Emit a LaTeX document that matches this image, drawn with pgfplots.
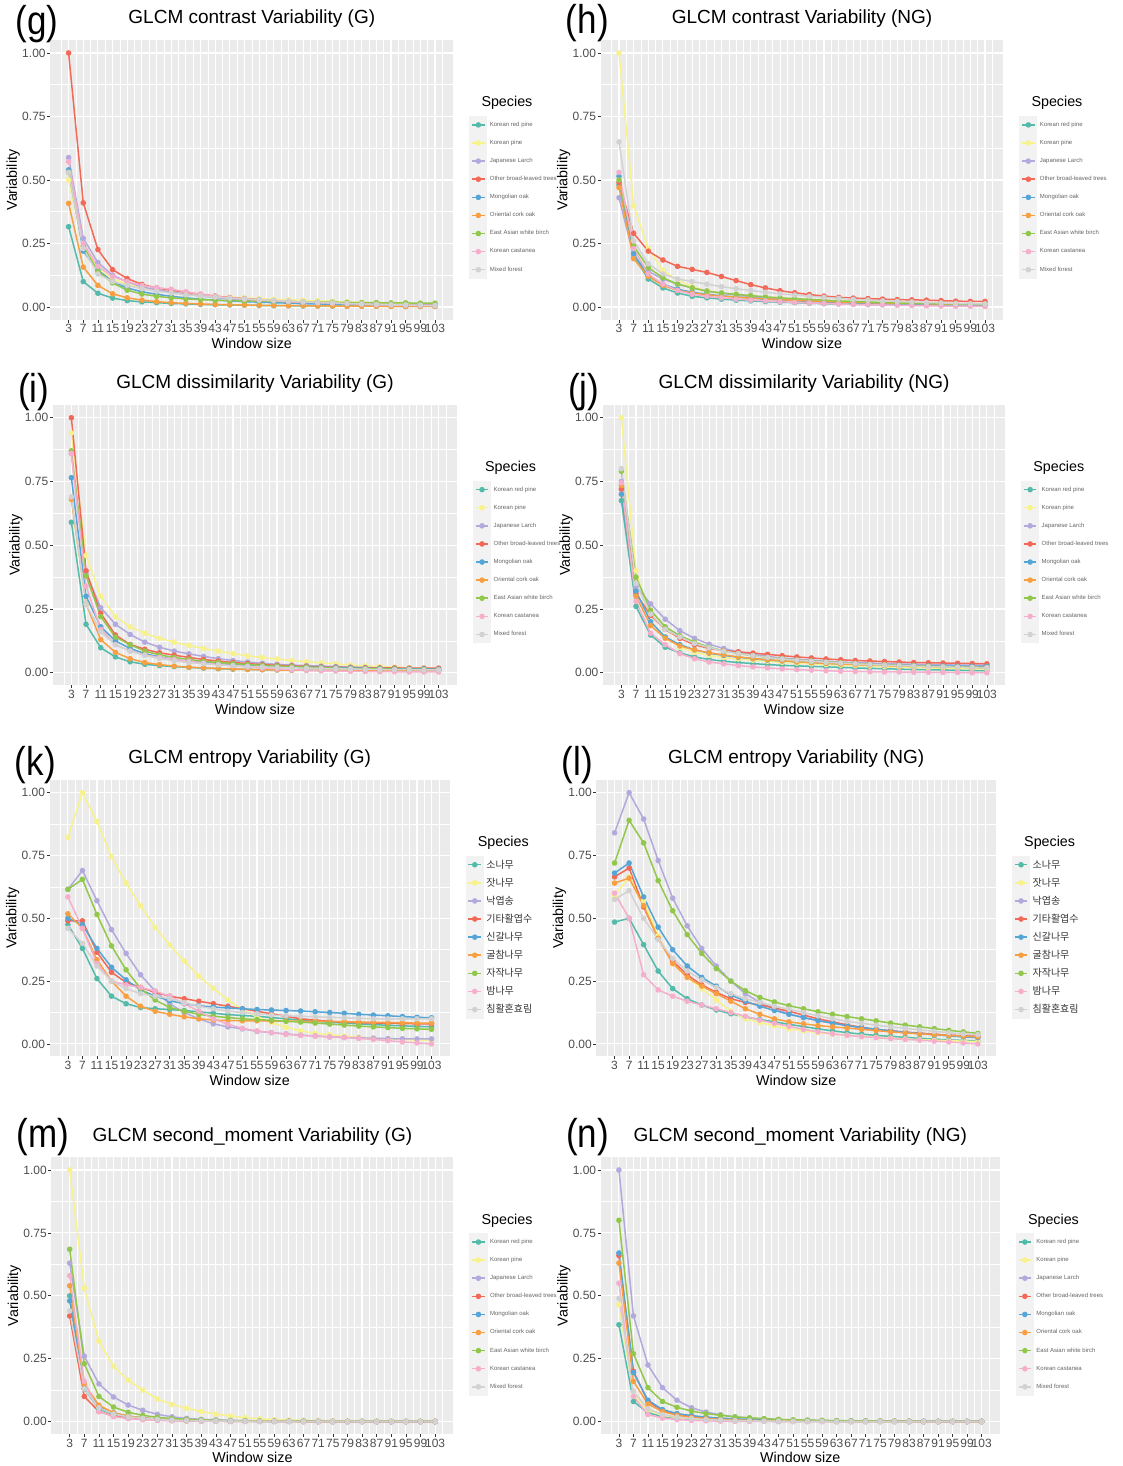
\documentclass[border=0pt]{standalone}
\usepackage{fontspec}
\setmainfont{Liberation Sans}
\newfontfamily\kr{Noto Sans CJK KR}
\usepackage{graphicx}
\usepackage{pgfplots}
\usepackage{pgfplotstable}
\pgfplotsset{compat=1.18}
\definecolor{gg92}{RGB}{235,235,235}
\definecolor{gg95}{RGB}{242,242,242}
\definecolor{gg30}{RGB}{77,77,77}
\definecolor{gg20}{RGB}{51,51,51}
\definecolor{gg40}{RGB}{100,100,100}
\definecolor{c1}{RGB}{84,186,170}
\definecolor{c2}{RGB}{248,242,140}
\definecolor{c3}{RGB}{178,170,220}
\definecolor{c4}{RGB}{242,105,88}
\definecolor{c5}{RGB}{85,165,215}
\definecolor{c6}{RGB}{248,160,65}
\definecolor{c7}{RGB}{145,200,75}
\definecolor{c8}{RGB}{245,175,205}
\definecolor{c9}{RGB}{210,210,210}

\pgfplotstableread{
name c1 c2 c3 c4 c5 c6 c7 c8 c9 c10 c11 c12 c13 c14 c15 c16 c17 c18 c19 c20 c21 c22 c23 c24 c25 c26
x 3 7 11 15 19 23 27 31 35 39 43 47 51 55 59 63 67 71 75 79 83 87 91 95 99 103
a 0.316 0.100 0.054 0.035 0.025 0.020 0.017 0.014 0.012 0.010 0.009 0.008 0.007 0.006 0.005 0.005 0.004 0.004 0.004 0.003 0.003 0.003 0.003 0.002 0.002 0.002
b 0.500 0.240 0.150 0.110 0.090 0.075 0.065 0.058 0.052 0.047 0.043 0.039 0.036 0.033 0.030 0.028 0.026 0.024 0.022 0.020 0.018 0.016 0.014 0.013 0.012 0.011
c 0.588 0.270 0.175 0.125 0.099 0.079 0.068 0.059 0.050 0.043 0.037 0.032 0.028 0.025 0.022 0.020 0.018 0.016 0.014 0.013 0.012 0.011 0.010 0.009 0.008 0.008
d 1.000 0.410 0.226 0.147 0.112 0.089 0.075 0.066 0.058 0.050 0.043 0.037 0.033 0.029 0.025 0.022 0.019 0.017 0.015 0.013 0.011 0.010 0.009 0.008 0.007 0.006
e 0.540 0.220 0.145 0.100 0.075 0.060 0.050 0.042 0.036 0.031 0.027 0.024 0.021 0.019 0.017 0.015 0.013 0.012 0.011 0.010 0.009 0.008 0.007 0.006 0.006 0.005
f 0.408 0.157 0.085 0.052 0.036 0.027 0.021 0.017 0.014 0.012 0.010 0.009 0.008 0.007 0.006 0.005 0.005 0.004 0.004 0.003 0.003 0.003 0.002 0.002 0.002 0.002
g 0.530 0.240 0.140 0.095 0.066 0.051 0.042 0.036 0.032 0.029 0.027 0.025 0.024 0.023 0.022 0.021 0.020 0.019 0.019 0.018 0.017 0.017 0.016 0.016 0.015 0.015
h 0.572 0.250 0.160 0.120 0.100 0.085 0.076 0.070 0.060 0.050 0.042 0.036 0.031 0.027 0.024 0.021 0.019 0.017 0.015 0.013 0.011 0.009 0.008 0.007 0.006 0.005
i 0.530 0.230 0.130 0.100 0.085 0.072 0.062 0.055 0.048 0.043 0.039 0.035 0.032 0.029 0.026 0.023 0.020 0.018 0.016 0.014 0.012 0.010 0.009 0.008 0.007 0.006
}\rawG
\pgfplotstableread{
name c1 c2 c3 c4 c5 c6 c7 c8 c9 c10 c11 c12 c13 c14 c15 c16 c17 c18 c19 c20 c21 c22 c23 c24 c25 c26
x 3 7 11 15 19 23 27 31 35 39 43 47 51 55 59 63 67 71 75 79 83 87 91 95 99 103
a 0.480 0.200 0.110 0.075 0.055 0.042 0.036 0.031 0.027 0.024 0.021 0.019 0.017 0.015 0.013 0.012 0.011 0.010 0.009 0.008 0.007 0.006 0.006 0.005 0.005 0.004
b 1.000 0.400 0.230 0.145 0.105 0.080 0.065 0.055 0.048 0.042 0.037 0.033 0.030 0.027 0.024 0.022 0.020 0.018 0.016 0.015 0.014 0.013 0.012 0.011 0.010 0.010
c 0.430 0.200 0.140 0.110 0.090 0.075 0.063 0.054 0.047 0.041 0.036 0.032 0.028 0.025 0.022 0.020 0.018 0.016 0.014 0.013 0.012 0.011 0.010 0.009 0.008 0.008
d 0.490 0.290 0.220 0.185 0.160 0.148 0.136 0.120 0.104 0.088 0.075 0.064 0.056 0.049 0.043 0.038 0.035 0.033 0.031 0.029 0.028 0.027 0.025 0.023 0.022 0.022
e 0.515 0.210 0.120 0.090 0.070 0.058 0.050 0.044 0.039 0.035 0.031 0.028 0.025 0.022 0.020 0.018 0.016 0.015 0.014 0.013 0.012 0.011 0.010 0.009 0.009 0.008
f 0.470 0.190 0.120 0.085 0.065 0.055 0.048 0.043 0.039 0.035 0.032 0.029 0.026 0.024 0.022 0.020 0.018 0.017 0.016 0.015 0.014 0.013 0.012 0.011 0.011 0.010
g 0.500 0.240 0.155 0.115 0.090 0.075 0.062 0.055 0.050 0.045 0.040 0.036 0.033 0.030 0.027 0.024 0.022 0.020 0.018 0.016 0.015 0.014 0.013 0.012 0.011 0.010
h 0.530 0.230 0.130 0.090 0.065 0.050 0.042 0.036 0.031 0.027 0.024 0.021 0.018 0.016 0.014 0.012 0.010 0.009 0.008 0.007 0.006 0.005 0.004 0.003 0.003 0.002
i 0.650 0.260 0.170 0.130 0.110 0.100 0.090 0.080 0.072 0.065 0.058 0.052 0.047 0.042 0.038 0.034 0.030 0.027 0.024 0.022 0.020 0.018 0.016 0.014 0.013 0.012
}\rawH
\pgfplotstableread{
name c1 c2 c3 c4 c5 c6 c7 c8 c9 c10 c11 c12 c13 c14 c15 c16 c17 c18 c19 c20 c21 c22 c23 c24 c25 c26
x 3 7 11 15 19 23 27 31 35 39 43 47 51 55 59 63 67 71 75 79 83 87 91 95 99 103
a 0.590 0.190 0.098 0.062 0.043 0.033 0.028 0.024 0.021 0.018 0.016 0.014 0.013 0.012 0.011 0.010 0.010 0.009 0.009 0.009 0.008 0.008 0.008 0.008 0.008 0.008
b 0.940 0.460 0.300 0.220 0.180 0.155 0.135 0.120 0.107 0.095 0.085 0.075 0.066 0.060 0.054 0.048 0.043 0.039 0.035 0.030 0.027 0.025 0.022 0.020 0.018 0.017
c 0.860 0.390 0.255 0.190 0.150 0.120 0.100 0.085 0.074 0.064 0.055 0.048 0.042 0.037 0.033 0.030 0.028 0.026 0.024 0.022 0.020 0.019 0.018 0.017 0.016 0.015
d 1.000 0.400 0.233 0.148 0.111 0.092 0.078 0.069 0.060 0.052 0.046 0.040 0.036 0.032 0.029 0.027 0.025 0.023 0.022 0.021 0.020 0.019 0.019 0.018 0.018 0.018
e 0.765 0.300 0.180 0.125 0.095 0.075 0.062 0.052 0.045 0.040 0.035 0.032 0.029 0.027 0.025 0.023 0.022 0.021 0.020 0.019 0.018 0.017 0.016 0.015 0.015 0.014
f 0.680 0.270 0.130 0.080 0.055 0.040 0.032 0.026 0.022 0.019 0.017 0.015 0.013 0.012 0.011 0.010 0.010 0.009 0.009 0.009 0.008 0.008 0.008 0.008 0.008 0.008
g 0.870 0.380 0.220 0.140 0.110 0.085 0.070 0.060 0.052 0.045 0.040 0.036 0.032 0.029 0.026 0.024 0.022 0.020 0.018 0.017 0.016 0.015 0.014 0.013 0.013 0.012
h 0.860 0.340 0.170 0.110 0.085 0.070 0.060 0.052 0.045 0.038 0.032 0.027 0.022 0.018 0.015 0.012 0.010 0.008 0.007 0.006 0.005 0.004 0.004 0.003 0.003 0.003
i 0.690 0.270 0.160 0.110 0.085 0.068 0.056 0.047 0.040 0.035 0.031 0.028 0.025 0.023 0.021 0.019 0.018 0.017 0.016 0.015 0.014 0.013 0.012 0.012 0.011 0.011
}\rawI
\pgfplotstableread{
name c1 c2 c3 c4 c5 c6 c7 c8 c9 c10 c11 c12 c13 c14 c15 c16 c17 c18 c19 c20 c21 c22 c23 c24 c25 c26
x 3 7 11 15 19 23 27 31 35 39 43 47 51 55 59 63 67 71 75 79 83 87 91 95 99 103
a 0.675 0.260 0.148 0.100 0.078 0.062 0.052 0.045 0.040 0.036 0.032 0.029 0.027 0.025 0.023 0.021 0.019 0.017 0.016 0.014 0.013 0.012 0.011 0.010 0.009 0.008
b 1.000 0.400 0.200 0.140 0.100 0.080 0.068 0.060 0.054 0.049 0.045 0.041 0.038 0.035 0.032 0.030 0.028 0.026 0.024 0.022 0.021 0.019 0.018 0.017 0.016 0.015
c 0.750 0.340 0.270 0.210 0.165 0.135 0.112 0.095 0.082 0.072 0.064 0.058 0.053 0.049 0.045 0.042 0.040 0.038 0.036 0.034 0.033 0.032 0.031 0.030 0.030 0.030
d 0.720 0.310 0.225 0.170 0.135 0.110 0.095 0.087 0.082 0.077 0.072 0.067 0.062 0.058 0.054 0.051 0.048 0.046 0.044 0.042 0.040 0.039 0.038 0.037 0.036 0.035
e 0.700 0.320 0.200 0.140 0.110 0.090 0.077 0.068 0.061 0.055 0.050 0.046 0.043 0.040 0.037 0.035 0.033 0.031 0.030 0.029 0.028 0.027 0.026 0.026 0.025 0.025
f 0.735 0.300 0.185 0.135 0.105 0.090 0.078 0.070 0.062 0.056 0.051 0.047 0.043 0.040 0.037 0.034 0.032 0.030 0.028 0.026 0.025 0.024 0.023 0.022 0.021 0.020
g 0.790 0.375 0.245 0.180 0.145 0.120 0.100 0.085 0.075 0.067 0.060 0.055 0.050 0.046 0.042 0.039 0.036 0.033 0.031 0.029 0.027 0.025 0.024 0.022 0.021 0.020
h 0.745 0.280 0.155 0.110 0.075 0.055 0.042 0.035 0.028 0.023 0.019 0.015 0.012 0.010 0.008 0.006 0.005 0.004 0.003 0.003 0.002 0.002 0.001 0.001 0.000 0.000
i 0.800 0.350 0.230 0.170 0.140 0.115 0.098 0.085 0.075 0.067 0.060 0.054 0.049 0.045 0.041 0.038 0.035 0.032 0.030 0.028 0.026 0.024 0.023 0.022 0.021 0.020
}\rawJ
\pgfplotstableread{
name c1 c2 c3 c4 c5 c6 c7 c8 c9 c10 c11 c12 c13 c14 c15 c16 c17 c18 c19 c20 c21 c22 c23 c24 c25 c26
x 3 7 11 15 19 23 27 31 35 39 43 47 51 55 59 63 67 71 75 79 83 87 91 95 99 103
a 0.475 0.380 0.260 0.190 0.160 0.145 0.140 0.137 0.133 0.128 0.122 0.117 0.113 0.110 0.105 0.100 0.095 0.090 0.086 0.083 0.080 0.077 0.074 0.072 0.070 0.068
b 0.822 1.000 0.885 0.745 0.640 0.550 0.464 0.394 0.330 0.270 0.221 0.175 0.138 0.109 0.085 0.066 0.052 0.042 0.037 0.031 0.027 0.023 0.020 0.017 0.016 0.015
c 0.615 0.690 0.570 0.455 0.360 0.275 0.210 0.160 0.125 0.100 0.080 0.068 0.060 0.050 0.045 0.040 0.035 0.032 0.028 0.026 0.024 0.023 0.021 0.020 0.020 0.020
d 0.490 0.490 0.365 0.285 0.245 0.225 0.205 0.190 0.180 0.170 0.160 0.150 0.140 0.130 0.120 0.110 0.100 0.095 0.090 0.087 0.085 0.083 0.082 0.081 0.080 0.080
e 0.500 0.475 0.380 0.305 0.255 0.215 0.190 0.172 0.160 0.152 0.147 0.143 0.140 0.137 0.135 0.133 0.131 0.128 0.125 0.122 0.118 0.115 0.112 0.109 0.106 0.104
f 0.518 0.460 0.335 0.250 0.190 0.150 0.130 0.118 0.108 0.100 0.095 0.093 0.092 0.092 0.091 0.091 0.090 0.090 0.089 0.088 0.087 0.086 0.085 0.084 0.083 0.083
g 0.615 0.655 0.515 0.390 0.295 0.220 0.175 0.145 0.130 0.118 0.110 0.105 0.100 0.097 0.094 0.090 0.087 0.083 0.079 0.075 0.071 0.068 0.065 0.062 0.060 0.058
h 0.585 0.460 0.320 0.250 0.235 0.225 0.210 0.190 0.160 0.130 0.100 0.078 0.062 0.052 0.045 0.038 0.034 0.031 0.028 0.025 0.022 0.018 0.013 0.008 0.004 0.000
i 0.460 0.400 0.310 0.250 0.220 0.200 0.190 0.180 0.165 0.150 0.140 0.130 0.125 0.120 0.115 0.112 0.110 0.108 0.106 0.104 0.102 0.100 0.100 0.100 0.100 0.100
}\rawK
\pgfplotstableread{
name c1 c2 c3 c4 c5 c6 c7 c8 c9 c10 c11 c12 c13 c14 c15 c16 c17 c18 c19 c20 c21 c22 c23 c24 c25 c26
x 3 7 11 15 19 23 27 31 35 39 43 47 51 55 59 63 67 71 75 79 83 87 91 95 99 103
a 0.485 0.500 0.395 0.290 0.220 0.180 0.155 0.135 0.120 0.107 0.097 0.088 0.078 0.069 0.060 0.052 0.045 0.039 0.034 0.030 0.026 0.022 0.019 0.016 0.014 0.012
b 0.590 0.665 0.570 0.430 0.320 0.265 0.220 0.175 0.130 0.100 0.085 0.072 0.060 0.052 0.045 0.040 0.035 0.030 0.026 0.023 0.020 0.017 0.015 0.013 0.011 0.010
c 0.840 1.000 0.895 0.730 0.580 0.470 0.380 0.310 0.250 0.200 0.165 0.140 0.120 0.105 0.092 0.082 0.073 0.065 0.058 0.052 0.047 0.042 0.038 0.035 0.032 0.030
d 0.665 0.700 0.545 0.420 0.330 0.275 0.235 0.205 0.180 0.165 0.155 0.143 0.130 0.115 0.100 0.088 0.076 0.066 0.058 0.052 0.047 0.043 0.039 0.035 0.032 0.030
e 0.680 0.720 0.585 0.465 0.375 0.310 0.265 0.230 0.195 0.170 0.150 0.133 0.118 0.105 0.093 0.083 0.073 0.065 0.058 0.052 0.046 0.041 0.036 0.032 0.028 0.025
f 0.640 0.660 0.550 0.420 0.320 0.265 0.230 0.200 0.170 0.140 0.118 0.100 0.088 0.080 0.073 0.068 0.063 0.058 0.053 0.048 0.044 0.040 0.037 0.034 0.031 0.028
g 0.720 0.890 0.800 0.650 0.530 0.435 0.360 0.300 0.250 0.212 0.185 0.167 0.152 0.140 0.128 0.118 0.109 0.100 0.092 0.083 0.075 0.068 0.061 0.054 0.048 0.042
h 0.600 0.500 0.275 0.215 0.190 0.170 0.155 0.140 0.125 0.110 0.095 0.082 0.070 0.058 0.048 0.040 0.034 0.029 0.025 0.021 0.018 0.015 0.011 0.008 0.004 0.000
i 0.575 0.610 0.500 0.415 0.340 0.290 0.255 0.225 0.200 0.180 0.165 0.150 0.138 0.125 0.112 0.100 0.090 0.082 0.075 0.068 0.062 0.056 0.050 0.045 0.040 0.037
}\rawL
\pgfplotstableread{
name c1 c2 c3 c4 c5 c6 c7 c8 c9 c10 c11 c12 c13 c14 c15 c16 c17 c18 c19 c20 c21 c22 c23 c24 c25 c26
x 3 7 11 15 19 23 27 31 35 39 43 47 51 55 59 63 67 71 75 79 83 87 91 95 99 103
a 0.500 0.130 0.050 0.028 0.018 0.012 0.008 0.006 0.004 0.003 0.003 0.002 0.002 0.002 0.001 0.001 0.001 0.001 0.001 0.001 0.001 0.000 0.000 0.000 0.000 0.000
b 1.000 0.530 0.320 0.220 0.165 0.125 0.090 0.068 0.053 0.040 0.030 0.022 0.016 0.011 0.008 0.006 0.005 0.004 0.003 0.003 0.002 0.002 0.002 0.001 0.001 0.001
c 0.630 0.260 0.150 0.098 0.066 0.045 0.029 0.019 0.013 0.009 0.007 0.005 0.004 0.003 0.003 0.002 0.002 0.002 0.001 0.001 0.001 0.001 0.001 0.001 0.001 0.001
d 0.420 0.100 0.040 0.022 0.014 0.009 0.006 0.004 0.003 0.002 0.002 0.001 0.001 0.001 0.001 0.001 0.000 0.000 0.000 0.000 0.000 0.000 0.000 0.000 0.000 0.000
e 0.480 0.130 0.060 0.035 0.022 0.015 0.010 0.007 0.005 0.004 0.003 0.002 0.002 0.001 0.001 0.001 0.001 0.000 0.000 0.000 0.000 0.000 0.000 0.000 0.000 0.000
f 0.540 0.150 0.065 0.035 0.022 0.015 0.010 0.007 0.005 0.004 0.003 0.002 0.002 0.001 0.001 0.001 0.000 0.000 0.000 0.000 0.000 0.000 0.000 0.000 0.000 0.000
g 0.685 0.230 0.100 0.058 0.037 0.025 0.017 0.012 0.009 0.007 0.005 0.004 0.003 0.003 0.002 0.002 0.002 0.001 0.001 0.001 0.001 0.001 0.001 0.001 0.001 0.001
h 0.580 0.160 0.040 0.020 0.012 0.008 0.005 0.004 0.003 0.002 0.002 0.001 0.001 0.001 0.001 0.000 0.000 0.000 0.000 0.000 0.000 0.000 0.000 0.000 0.000 0.000
i 0.440 0.130 0.055 0.030 0.019 0.013 0.009 0.006 0.004 0.003 0.002 0.002 0.001 0.001 0.001 0.001 0.000 0.000 0.000 0.000 0.000 0.000 0.000 0.000 0.000 0.000
}\rawM
\pgfplotstableread{
name c1 c2 c3 c4 c5 c6 c7 c8 c9 c10 c11 c12 c13 c14 c15 c16 c17 c18 c19 c20 c21 c22 c23 c24 c25 c26
x 3 7 11 15 19 23 27 31 35 39 43 47 51 55 59 63 67 71 75 79 83 87 91 95 99 103
a 0.385 0.080 0.035 0.020 0.013 0.009 0.006 0.004 0.003 0.002 0.002 0.001 0.001 0.001 0.001 0.000 0.000 0.000 0.000 0.000 0.000 0.000 0.000 0.000 0.000 0.000
b 0.465 0.110 0.045 0.025 0.016 0.011 0.008 0.006 0.004 0.003 0.002 0.002 0.001 0.001 0.001 0.001 0.000 0.000 0.000 0.000 0.000 0.000 0.000 0.000 0.000 0.000
c 1.000 0.420 0.225 0.135 0.085 0.055 0.038 0.027 0.019 0.014 0.010 0.008 0.006 0.005 0.004 0.003 0.003 0.002 0.002 0.002 0.001 0.001 0.001 0.001 0.001 0.001
d 0.660 0.200 0.080 0.045 0.030 0.021 0.015 0.011 0.008 0.006 0.005 0.004 0.003 0.002 0.002 0.002 0.001 0.001 0.001 0.001 0.001 0.000 0.000 0.000 0.000 0.000
e 0.670 0.195 0.085 0.048 0.032 0.024 0.018 0.014 0.011 0.009 0.007 0.006 0.005 0.004 0.003 0.003 0.002 0.002 0.002 0.001 0.001 0.001 0.001 0.001 0.001 0.001
f 0.630 0.160 0.070 0.040 0.025 0.017 0.012 0.009 0.007 0.005 0.004 0.003 0.003 0.002 0.002 0.001 0.001 0.001 0.001 0.001 0.000 0.000 0.000 0.000 0.000 0.000
g 0.800 0.270 0.135 0.080 0.057 0.042 0.032 0.025 0.019 0.015 0.012 0.009 0.007 0.006 0.005 0.004 0.003 0.003 0.002 0.002 0.002 0.001 0.001 0.001 0.001 0.001
h 0.550 0.100 0.028 0.014 0.008 0.005 0.003 0.002 0.001 0.001 0.001 0.000 0.000 0.000 0.000 0.000 0.000 0.000 0.000 0.000 0.000 0.000 0.000 0.000 0.000 0.000
i 0.490 0.120 0.050 0.028 0.018 0.012 0.008 0.006 0.004 0.003 0.002 0.002 0.001 0.001 0.001 0.000 0.000 0.000 0.000 0.000 0.000 0.000 0.000 0.000 0.000 0.000
}\rawN
\pgfplotstabletranspose[colnames from=name]{\tabG}{\rawG}
\pgfplotstabletranspose[colnames from=name]{\tabH}{\rawH}
\pgfplotstabletranspose[colnames from=name]{\tabI}{\rawI}
\pgfplotstabletranspose[colnames from=name]{\tabJ}{\rawJ}
\pgfplotstabletranspose[colnames from=name]{\tabK}{\rawK}
\pgfplotstabletranspose[colnames from=name]{\tabL}{\rawL}
\pgfplotstabletranspose[colnames from=name]{\tabM}{\rawM}
\pgfplotstabletranspose[colnames from=name]{\tabN}{\rawN}

\pgfplotsset{
  ggl/.style={line width=1.5pt, mark=*, mark size=2pt, mark options={solid}},
  gg/.style={
    scale only axis, anchor=north west,
    xmin=-2, xmax=108, ymin=-0.05, ymax=1.05,
    axis background/.style={fill=gg92},
    axis line style={draw=none},
    xtick={3,7,...,103},
    xticklabels={3,7,11,15,19,23,27,31,35,39,43,47,51,55,59,63,67,71,75,79,83,87,91,95,99,103},
    minor xtick={1,5,...,105},
    ytick={0,0.25,0.5,0.75,1},
    yticklabels={0.00,0.25,0.50,0.75,1.00},
    minor ytick={0.125,0.375,0.625,0.875},
    grid=both,
    major grid style={white, line width=1.1pt},
    minor grid style={white, line width=0.55pt},
    tick align=outside, xtick pos=left, ytick pos=left,
    major tick length=3pt, minor tick length=0pt,
    major tick style={gg20, line width=0.6pt},
    tick label style={font=\fontsize{12}{12}\selectfont, text=gg30},
    yticklabel style={inner sep=1.5pt},
    xticklabel style={inner sep=1.5pt},
    xlabel={Window size}, ylabel={Variability},
    label style={font=\fontsize{14.3}{14.3}\selectfont},
    xlabel style={at={(axis description cs:0.5,0)}, anchor=center, yshift=-23.6pt},
    ylabel style={at={(axis description cs:0,0.5)}, anchor=center, yshift=37pt},
    title style={at={(axis description cs:0.5,1)}, anchor=center, yshift=15.3pt, font=\fontsize{19}{19}\selectfont},
    legend cell align=left,
    legend image code/.code={
      \fill[gg95] (0pt,-8.3pt) rectangle (16.6pt,8.3pt);
      \draw[mark repeat=2,mark phase=2] plot coordinates {(2pt,0pt) (8.3pt,0pt) (14.6pt,0pt)};
    },
    legend style={at={(axis description cs:1,1)}, anchor=north west, xshift=16pt, yshift=-75.6pt,
      draw=none, fill=none, inner sep=0pt, outer sep=0pt, row sep=0pt, column sep=2.5pt,
      nodes={inner sep=0pt, outer sep=0pt, minimum height=16.6pt}},
  },
  englg/.style={legend style={font=\fontsize{6}{7}\selectfont, text=gg40}},
  korlg/.style={legend style={font=\kr\fontsize{10}{12}\selectfont, text=gg20}},
}
\newcommand\allplots[1]{%
  \addplot[c1,ggl] table[x=x,y=a]{#1};
  \addplot[c2,ggl] table[x=x,y=b]{#1};
  \addplot[c3,ggl] table[x=x,y=c]{#1};
  \addplot[c4,ggl] table[x=x,y=d]{#1};
  \addplot[c5,ggl] table[x=x,y=e]{#1};
  \addplot[c6,ggl] table[x=x,y=f]{#1};
  \addplot[c7,ggl] table[x=x,y=g]{#1};
  \addplot[c8,ggl] table[x=x,y=h]{#1};
  \addplot[c9,ggl] table[x=x,y=i]{#1};
}
\newcommand\englegend{\legend{Korean red pine,Korean pine,Japanese Larch,Other broad-leaved trees,Mongolian oak,Oriental cork oak,East Asian white birch,Korean castanea,Mixed forest}}
\newcommand\korlegend{\legend{소나무,잣나무,낙엽송,기타활엽수,신갈나무,굴참나무,자작나무,밤나무,침활혼효림}}
\tikzset{
  lab/.style={anchor=west, inner sep=0pt, font=\fontsize{35}{35}\selectfont},
  spc/.style={anchor=west, inner sep=0pt, font=\fontsize{14.3}{14.3}\selectfont},
}

\begin{document}
\begin{tikzpicture}
\useasboundingbox (0,0) rectangle (1123pt,1466pt);
% row 1
\begin{axis}[gg, name=G, at={(50.3pt,1425.7pt)}, width=403pt, height=279.4pt, title={GLCM contrast Variability (G)}, englg]
\allplots{\tabG}
\englegend
\end{axis}
\node[lab] at ([xshift=-35pt,yshift=16pt]G.north west) {\scalebox{1}[1.15]{(g)}};
\node[spc] at ([xshift=28pt,yshift=-63pt]G.north east) {Species};
\begin{axis}[gg, name=H, at={(600.7pt,1425.7pt)}, width=402.6pt, height=279.4pt, title={GLCM contrast Variability (NG)}, englg]
\allplots{\tabH}
\englegend
\end{axis}
\node[lab] at ([xshift=-35pt,yshift=17pt]H.north west) {\scalebox{1}[1.15]{(h)}};
\node[spc] at ([xshift=28pt,yshift=-63pt]H.north east) {Species};
% row 2
\begin{axis}[gg, name=I, at={(53pt,1061pt)}, width=404pt, height=280.5pt, title={GLCM dissimilarity Variability (G)}, englg]
\allplots{\tabI}
\englegend
\end{axis}
\node[lab] at ([xshift=-35pt,yshift=13pt]I.north west) {\scalebox{1}[1.15]{(i)}};
\node[spc] at ([xshift=28pt,yshift=-63pt]I.north east) {Species};
\begin{axis}[gg, name=J, at={(603.1pt,1061pt)}, width=402pt, height=280.5pt, title={GLCM dissimilarity Variability (NG)}, englg]
\allplots{\tabJ}
\englegend
\end{axis}
\node[lab] at ([xshift=-35pt,yshift=13pt]J.north west) {\scalebox{1}[1.15]{(j)}};
\node[spc] at ([xshift=28pt,yshift=-63pt]J.north east) {Species};
% row 3
\begin{axis}[gg, name=K, at={(49.7pt,685.9pt)}, width=400pt, height=276.4pt, title={GLCM entropy Variability (G)}, korlg]
\allplots{\tabK}
\korlegend
\end{axis}
\node[lab] at ([xshift=-35pt,yshift=15pt]K.north west) {\scalebox{1}[1.15]{(k)}};
\node[spc] at ([xshift=28pt,yshift=-63pt]K.north east) {Species};
\begin{axis}[gg, name=L, at={(596.4pt,685.9pt)}, width=399.6pt, height=276.4pt, title={GLCM entropy Variability (NG)}, korlg]
\allplots{\tabL}
\korlegend
\end{axis}
\node[lab] at ([xshift=-35pt,yshift=15pt]L.north west) {\scalebox{1}[1.15]{(l)}};
\node[spc] at ([xshift=28pt,yshift=-63pt]L.north east) {Species};
% row 4
\begin{axis}[gg, name=M, at={(51.4pt,308.6pt)}, width=402pt, height=276.8pt, title={GLCM second\_moment Variability (G)}, englg]
\allplots{\tabM}
\englegend
\end{axis}
\node[lab] at ([xshift=-35pt,yshift=20pt]M.north west) {\scalebox{1}[1.15]{(m)}};
\node[spc] at ([xshift=28pt,yshift=-63pt]M.north east) {Species};
\begin{axis}[gg, name=N, at={(600.8pt,308.6pt)}, width=399pt, height=276.8pt, title={GLCM second\_moment Variability (NG)}, englg]
\allplots{\tabN}
\englegend
\end{axis}
\node[lab] at ([xshift=-35pt,yshift=20pt]N.north west) {\scalebox{1}[1.15]{(n)}};
\node[spc] at ([xshift=28pt,yshift=-63pt]N.north east) {Species};
\end{tikzpicture}
\end{document}
